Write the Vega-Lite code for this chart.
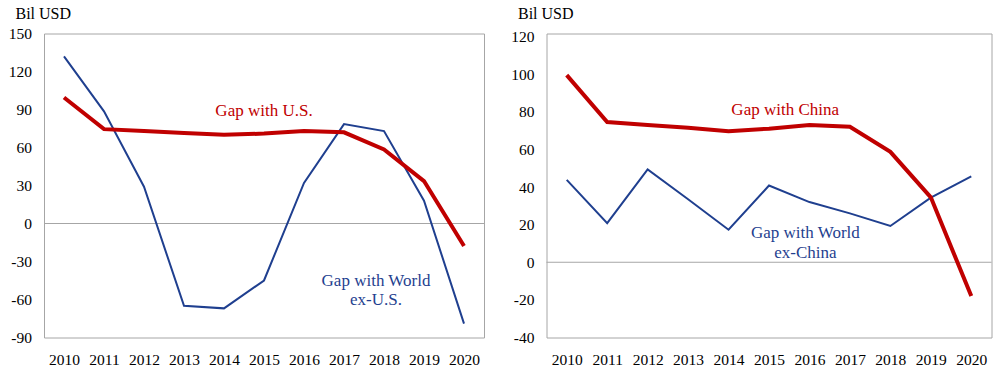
{
  "$schema": "https://vega.github.io/schema/vega-lite/v6.json",
  "padding": {"left": 7, "top": 4.5, "right": 5, "bottom": 0},
  "background": "white",
  "spacing": 24.5,
  "config": {
    "font": "Liberation Serif",
    "view": {"stroke": "#a6a6a6", "strokeWidth": 1},
    "text": {"font": "Liberation Serif"},
    "axis": {
      "labelFont": "Liberation Serif", "labelFontSize": 15.5, "labelColor": "black",
      "domain": false, "ticks": false, "grid": false,
      "titleFont": "Liberation Serif", "titleFontWeight": "normal", "titleFontSize": 16, "titleColor": "black"
    }
  },
  "datasets": {
    "left": [
      {"year": 2010, "series": "main", "value": 99.5},
      {"year": 2011, "series": "main", "value": 74.5},
      {"year": 2012, "series": "main", "value": 73},
      {"year": 2013, "series": "main", "value": 71.5},
      {"year": 2014, "series": "main", "value": 70},
      {"year": 2015, "series": "main", "value": 71},
      {"year": 2016, "series": "main", "value": 73},
      {"year": 2017, "series": "main", "value": 72},
      {"year": 2018, "series": "main", "value": 58.5},
      {"year": 2019, "series": "main", "value": 33.5},
      {"year": 2020, "series": "main", "value": -17.8},
      {"year": 2010, "series": "world", "value": 132},
      {"year": 2011, "series": "world", "value": 88.5},
      {"year": 2012, "series": "world", "value": 29},
      {"year": 2013, "series": "world", "value": -65},
      {"year": 2014, "series": "world", "value": -67},
      {"year": 2015, "series": "world", "value": -45},
      {"year": 2016, "series": "world", "value": 32},
      {"year": 2017, "series": "world", "value": 78.5},
      {"year": 2018, "series": "world", "value": 73},
      {"year": 2019, "series": "world", "value": 18},
      {"year": 2020, "series": "world", "value": -79}
    ],
    "right": [
      {"year": 2010, "series": "main", "value": 99.5},
      {"year": 2011, "series": "main", "value": 74.5},
      {"year": 2012, "series": "main", "value": 73},
      {"year": 2013, "series": "main", "value": 71.5},
      {"year": 2014, "series": "main", "value": 69.7},
      {"year": 2015, "series": "main", "value": 71},
      {"year": 2016, "series": "main", "value": 73},
      {"year": 2017, "series": "main", "value": 72},
      {"year": 2018, "series": "main", "value": 58.7},
      {"year": 2019, "series": "main", "value": 34.5},
      {"year": 2020, "series": "main", "value": -18},
      {"year": 2010, "series": "world", "value": 43.8},
      {"year": 2011, "series": "world", "value": 20.8},
      {"year": 2012, "series": "world", "value": 49.3},
      {"year": 2013, "series": "world", "value": 33.5},
      {"year": 2014, "series": "world", "value": 17.3},
      {"year": 2015, "series": "world", "value": 40.8},
      {"year": 2016, "series": "world", "value": 32},
      {"year": 2017, "series": "world", "value": 26},
      {"year": 2018, "series": "world", "value": 19.3},
      {"year": 2019, "series": "world", "value": 34.3},
      {"year": 2020, "series": "world", "value": 45.6}
    ]
  },
  "hconcat": [
    {
      "width": 440,
      "height": 304,
      "layer": [
        {
          "data": {"values": [{"value": 0}]},
          "mark": {"type": "rule", "color": "#a6a6a6", "strokeWidth": 1},
          "encoding": {"y": {"field": "value", "type": "quantitative", "scale": {"domain": [-90, 150], "nice": false, "zero": false},
            "axis": {"values": [-90, -60, -30, 0, 30, 60, 90, 120, 150], "labelExpr": "datum.value + ''", "labelFont": "Liberation Serif", "titleFont": "Liberation Serif", "labelPadding": 12.5, "title": "Bil USD", "titleAngle": 0, "titleAlign": "left", "titleBaseline": "alphabetic", "titleX": -29, "titleY": -15, "labelOverlap": false}}}
        },
        {
          "encoding": {
            "x": {"field": "year", "type": "quantitative", "scale": {"domain": [2009.5, 2020.5], "nice": false, "zero": false},
                  "axis": {"values": [2010, 2011, 2012, 2013, 2014, 2015, 2016, 2017, 2018, 2019, 2020], "format": "d", "labelFont": "Liberation Serif", "labelPadding": 15, "title": null, "labelFlush": false, "labelOverlap": false}},
            "y": {"field": "value", "type": "quantitative", "scale": {"domain": [-90, 150], "nice": false, "zero": false},
                  "axis": {"values": [-90, -60, -30, 0, 30, 60, 90, 120, 150], "labelExpr": "datum.value + ''", "labelFont": "Liberation Serif", "titleFont": "Liberation Serif", "labelPadding": 12.5, "title": "Bil USD", "titleAngle": 0, "titleAlign": "left", "titleBaseline": "alphabetic", "titleX": -29, "titleY": -15, "labelOverlap": false}},
            "color": {"field": "series", "type": "nominal", "scale": {"domain": ["main", "world"], "range": ["#c00000", "#1f3f8f"]}, "legend": null}
          },
          "layer": [
            {"data": {"name": "left"}, "transform": [{"filter": "datum.series == 'world'"}], "mark": {"type": "line", "strokeWidth": 2}},
            {"data": {"name": "left"}, "transform": [{"filter": "datum.series == 'main'"}], "mark": {"type": "line", "strokeWidth": 4}},
            {
              "data": {"values": [
                {"year": 2015, "value": 89, "series": "main", "label": "Gap with U.S."},
                {"year": 2017.8, "value": -45.3, "series": "world", "label": "Gap with World\nex-U.S."}
              ]},
              "mark": {"type": "text", "fontSize": 17, "font": "Liberation Serif", "lineBreak": "\n", "lineHeight": 19.5, "align": "center", "baseline": "middle"},
              "encoding": {"text": {"field": "label"}}
            }
          ]
        }
      ]
    },
    {
      "width": 445,
      "height": 304,
      "layer": [
        {
          "data": {"values": [{"value": 0}]},
          "mark": {"type": "rule", "color": "#a6a6a6", "strokeWidth": 1},
          "encoding": {"y": {"field": "value", "type": "quantitative", "scale": {"domain": [-40, 121.6], "nice": false, "zero": false},
            "axis": {"values": [-40, -20, 0, 20, 40, 60, 80, 100, 120], "labelExpr": "datum.value + ''", "labelFont": "Liberation Serif", "titleFont": "Liberation Serif", "labelPadding": 12.5, "title": "Bil USD", "titleAngle": 0, "titleAlign": "left", "titleBaseline": "alphabetic", "titleX": -29, "titleY": -15, "labelOverlap": false}}}
        },
        {
          "encoding": {
            "x": {"field": "year", "type": "quantitative", "scale": {"domain": [2009.5, 2020.5], "nice": false, "zero": false},
                  "axis": {"values": [2010, 2011, 2012, 2013, 2014, 2015, 2016, 2017, 2018, 2019, 2020], "format": "d", "labelFont": "Liberation Serif", "labelPadding": 15, "title": null, "labelFlush": false, "labelOverlap": false}},
            "y": {"field": "value", "type": "quantitative", "scale": {"domain": [-40, 121.6], "nice": false, "zero": false},
                  "axis": {"values": [-40, -20, 0, 20, 40, 60, 80, 100, 120], "labelExpr": "datum.value + ''", "labelFont": "Liberation Serif", "titleFont": "Liberation Serif", "labelPadding": 12.5, "title": "Bil USD", "titleAngle": 0, "titleAlign": "left", "titleBaseline": "alphabetic", "titleX": -29, "titleY": -15, "labelOverlap": false}},
            "color": {"field": "series", "type": "nominal", "scale": {"domain": ["main", "world"], "range": ["#c00000", "#1f3f8f"]}, "legend": null}
          },
          "layer": [
            {"data": {"name": "right"}, "transform": [{"filter": "datum.series == 'world'"}], "mark": {"type": "line", "strokeWidth": 2}},
            {"data": {"name": "right"}, "transform": [{"filter": "datum.series == 'main'"}], "mark": {"type": "line", "strokeWidth": 4}},
            {
              "data": {"values": [
                {"year": 2015.4, "value": 80.7, "series": "main", "label": "Gap with China"},
                {"year": 2015.9, "value": 15.4, "series": "world", "label": "Gap with World\nex-China"}
              ]},
              "mark": {"type": "text", "fontSize": 17, "font": "Liberation Serif", "lineBreak": "\n", "lineHeight": 19.5, "align": "center", "baseline": "middle"},
              "encoding": {"text": {"field": "label"}}
            }
          ]
        }
      ]
    }
  ]
}
